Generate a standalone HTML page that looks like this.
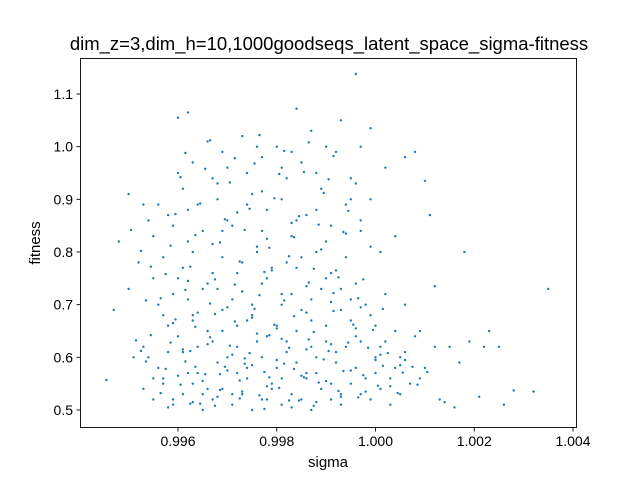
<!DOCTYPE html>
<html><head><meta charset="utf-8"><style>
body{margin:0;background:#fff;}
svg{display:block;font-family:"Liberation Sans","DejaVu Sans",sans-serif;}
</style></head><body>
<svg id="chart" width="640" height="480">
<rect x="0" y="0" width="640" height="480" fill="#fff"/>
<text x="329" y="50" text-anchor="middle" font-size="18.5" fill="#000">dim_z=3,dim_h=10,1000goodseqs_latent_space_sigma-fitness</text>
<g id="points"></g>
<g id="xaxis"></g>
<g id="yaxis"></g>
<rect x="80.5" y="58.5" width="496" height="369" fill="none" stroke="#000" stroke-width="0.9"/>
<text x="328" y="467" text-anchor="middle" font-size="15">sigma</text>
<text x="0" y="0" transform="translate(40,243) rotate(-90)" text-anchor="middle" font-size="15">fitness</text>
</svg>
<script>
const sigmaVals=[
0.99455,0.9948,0.9947,0.9950,0.9996,1.0035,1.0032,1.0028,1.0025,1.0023,
1.0018,1.0021,1.0010,1.0011,1.0008,1.0012,0.9999,0.9993,0.9984,0.9962,
0.9960,1.0016,1.0013,1.0014,1.0019,1.0026,1.0022,1.0017,1.0015,1.0009,
0.9953,0.9955,0.9957,0.9959,0.9961,0.9963,0.9965,0.9967,0.9969,0.9971,
0.9973,0.9975,0.9977,0.9979,0.9981,0.9983,0.9985,0.9987,0.9989,0.9991,
0.9993,0.9995,0.9997,0.9999,1.0001,1.0003,1.0005,0.9956,0.9962,0.9968,
0.9974,0.9980,0.9986,0.9992,0.9998,1.0004,0.9958,0.9964,0.9970,0.9976,
0.9982,0.9988,0.9994,1.0000,1.0006,0.9954,0.9960,0.9966,0.9972,0.9978,
0.9984,0.9990,0.9996,1.0002,0.9957,0.9963,0.9969,0.9975,0.9981,0.9987,
0.9993,0.9999,0.9959,0.9965,0.9971,0.9977,0.9983,0.9989,0.9995,0.9961,
0.9967,0.9973,0.9979,0.9985,0.9991,0.9955,0.9962,0.9969,0.9976,0.9983,
0.9990,0.9997,0.9958,0.9964,0.9970,0.9978,0.9986,0.9994,0.9961,0.9968,
0.9975,0.9982,0.9989,0.9996,0.9963,0.9970,0.9977,0.9985,0.9992,0.9966,
0.9973,0.9980,0.9987,0.9957,0.9965,0.9972,0.9979,0.9986,0.9993,0.9959,
0.9964,0.9966,0.9971,0.9974,0.9978,0.9981,0.9984,0.9988,0.9991,0.9996,
1.0000,1.0003,1.0007,1.0010,0.9955,0.9961,0.9967,0.9972,0.9977,0.9982,
0.9987,0.9992,0.9997,1.0001,1.0005,1.0008,0.9958,0.9963,0.9969,0.9974,
0.9980,0.9985,0.9990,0.9995,1.0000,1.0004,0.9956,0.9962,0.9968,0.9975,
0.9981,0.9987,0.9993,0.9998,1.0002,0.9960,0.9966,0.9972,0.9978,0.9984,
0.9990,0.9996,0.9957,0.9963,0.9969,0.9976,0.9982,0.9988,0.9994,0.9999,
0.9959,0.9965,0.9971,0.9977,0.9984,0.9991,0.9997,0.9956,0.9962,0.9968,
0.9974,0.9981,0.9988,0.9995,0.9960,0.9967,0.9974,0.9981,0.9988,0.9995,
0.9969,0.9976,0.9983,0.9990,0.9997,1.0002,1.0006,0.9951,0.9953,0.9954,
0.9952,0.9950,0.9955,0.9953,0.9999,1.0001,1.0004,1.0006,1.0009,1.0012,
0.9958,0.9963,0.9968,0.9973,0.9978,0.9983,0.9988,0.9993,0.9998,1.0003,
0.9960,0.9965,0.9970,0.9975,0.9980,0.9985,0.9990,0.9995,1.0000,1.0005,
0.9961,0.9966,0.9971,0.9976,0.9981,0.9986,0.9991,0.9996,1.0001,1.0006,
0.9959,0.9964,0.9970,0.9975,0.9980,0.9986,0.9991,0.9997,0.9962,0.9973,
0.9979,0.9986,0.9992,0.9967,0.9978,0.9989,0.9972,0.9983,0.9994,0.9977,
0.99565,0.99605,0.99645,0.99685,0.99725,0.99765,0.99805,0.99845,0.99885,0.99925,
0.99965,1.00005,1.00045,1.00085,0.99575,0.99615,0.99655,0.99695,0.99735,0.99775,
0.99815,0.99855,0.99895,0.99935,0.99975,1.00015,1.00055,0.99585,0.99625,0.99665,
0.99705,0.99745,0.99785,0.99825,0.99865,0.99905,0.99945,0.99985,1.00025,0.99595,
0.99635,0.99675,0.99715,0.99755,0.99795,0.99835,0.99875,0.99915,0.99955,0.99995,
0.99565,0.99615,0.99665,0.99715,0.99765,0.99815,0.99865,0.99915,0.99965,1.00015,
0.99575,0.99625,0.99675,0.99725,0.99775,0.99825,0.99875,0.99925,0.99975,0.99585,
0.99635,0.99685,0.99735,0.99785,0.99835,0.99885,0.99935,0.99595,0.99645,0.99695,
0.99745,0.99795,0.99845,0.99895,0.99945,0.99605,0.99655,0.99705,0.99755,0.99805,
0.99855,0.99905,0.99615,0.99665,0.99715,0.99765,0.99815,0.99865,0.99915,0.99625,
0.99675,0.99725,0.99775,0.99825,0.99875,0.99635,0.99685,0.99735,0.99785,0.99835,
0.99535,0.99545,0.99525,0.99515,0.99535,0.99545,0.99505,0.99525,1.00075,1.00105
];
const fitnessVals=[
0.557,0.82,0.69,0.91,1.138,0.73,0.535,0.537,0.62,0.65,
0.80,0.525,0.935,0.87,0.99,0.735,1.035,1.05,1.072,1.065,
1.055,0.505,0.52,0.515,0.63,0.51,0.62,0.59,0.62,0.56,
0.54,0.52,0.56,0.51,0.53,0.55,0.50,0.52,0.54,0.51,
0.53,0.50,0.52,0.55,0.51,0.53,0.52,0.50,0.54,0.52,
0.51,0.55,0.53,0.52,0.54,0.51,0.53,0.58,0.57,0.59,
0.56,0.58,0.57,0.59,0.56,0.58,0.61,0.62,0.60,0.63,
0.61,0.60,0.62,0.60,0.61,0.60,0.64,0.65,0.66,0.64,
0.65,0.63,0.64,0.63,0.68,0.67,0.69,0.68,0.70,0.67,
0.69,0.68,0.72,0.73,0.71,0.74,0.72,0.73,0.71,0.77,
0.76,0.78,0.77,0.79,0.76,0.83,0.82,0.84,0.81,0.83,
0.82,0.84,0.87,0.89,0.86,0.88,0.87,0.89,0.92,0.93,
0.91,0.94,0.92,0.93,0.97,0.96,0.98,0.97,0.99,1.01,
1.02,1.00,1.03,0.55,0.53,0.57,0.54,0.56,0.53,0.52,
0.57,0.54,0.53,0.58,0.52,0.56,0.59,0.57,0.55,0.58,
0.57,0.56,0.55,0.58,0.56,0.61,0.63,0.62,0.60,0.63,
0.62,0.61,0.63,0.62,0.60,0.64,0.66,0.68,0.65,0.67,
0.66,0.69,0.66,0.67,0.66,0.65,0.70,0.71,0.73,0.70,
0.72,0.71,0.73,0.70,0.72,0.75,0.74,0.76,0.75,0.77,
0.75,0.74,0.79,0.80,0.79,0.80,0.78,0.80,0.79,0.81,
0.85,0.84,0.85,0.84,0.86,0.85,0.86,0.89,0.88,0.90,
0.89,0.90,0.88,0.90,0.95,0.94,0.95,0.96,0.95,0.94,
0.99,1.00,0.99,1.00,1.00,0.96,0.98,0.60,0.62,0.86,
0.78,0.73,0.75,0.89,0.90,0.80,0.83,0.70,0.65,0.62,
0.505,0.515,0.525,0.535,0.545,0.505,0.515,0.525,0.535,0.545,
0.565,0.555,0.575,0.585,0.595,0.565,0.555,0.575,0.595,0.585,
0.615,0.625,0.605,0.645,0.635,0.615,0.625,0.655,0.605,0.595,
0.665,0.685,0.695,0.675,0.655,0.685,0.705,0.695,0.745,0.725,
0.765,0.735,0.765,0.815,0.825,0.805,0.875,0.855,0.835,0.915,
0.532,0.548,0.512,0.538,0.556,0.528,0.542,0.518,0.552,0.536,
0.524,0.546,0.532,0.548,0.578,0.592,0.568,0.582,0.598,0.572,
0.588,0.562,0.596,0.574,0.566,0.584,0.571,0.628,0.612,0.638,
0.622,0.608,0.642,0.618,0.634,0.612,0.628,0.618,0.608,0.672,
0.658,0.682,0.668,0.692,0.662,0.678,0.648,0.688,0.662,0.652,
0.712,0.728,0.702,0.738,0.718,0.708,0.742,0.722,0.712,0.692,
0.758,0.772,0.748,0.782,0.762,0.792,0.768,0.752,0.748,0.812,
0.832,0.818,0.842,0.808,0.828,0.852,0.838,0.872,0.892,0.862,
0.882,0.902,0.868,0.912,0.878,0.942,0.958,0.932,0.968,0.948,
0.952,0.938,0.988,1.012,0.978,1.022,0.992,1.008,0.982,0.512,
0.508,0.522,0.502,0.518,0.508,0.582,0.568,0.588,0.562,0.578,
0.592,0.642,0.612,0.632,0.708,0.772,0.842,0.802,0.582,0.572
];
const xTicks=[0.996,0.998,1.000,1.002,1.004];
const xTickLabels=["0.996","0.998","1.000","1.002","1.004"];
const yTicks=[0.5,0.6,0.7,0.8,0.9,1.0,1.1];
const yTickLabels=["0.5","0.6","0.7","0.8","0.9","1.0","1.1"];

const NS="http://www.w3.org/2000/svg";
function xScale(v){return 178+(v-0.996)*(98.75/0.002);}
function yScale(v){return 410-(v-0.5)*(52.67/0.1);}

const pg=document.getElementById('points');
const n=Math.min(sigmaVals.length,fitnessVals.length);
for(let i=0;i<n;i++){
  const c=document.createElementNS(NS,'circle');
  c.setAttribute('cx',xScale(sigmaVals[i]).toFixed(1));
  c.setAttribute('cy',yScale(fitnessVals[i]).toFixed(1));
  c.setAttribute('r','1.2');
  c.setAttribute('fill','#1f77b4');
  
  
  pg.appendChild(c);
}
const xg=document.getElementById('xaxis');
xTicks.forEach((t,i)=>{
  const x=xScale(t);
  const l=document.createElementNS(NS,'line');
  l.setAttribute('x1',x);l.setAttribute('x2',x);l.setAttribute('y1',427.5);l.setAttribute('y2',431.5);
  l.setAttribute('stroke','#000');l.setAttribute('stroke-width','0.9');
  
  
  xg.appendChild(l);
  const tx=document.createElementNS(NS,'text');
  tx.setAttribute('x',x);tx.setAttribute('y',446);tx.setAttribute('text-anchor','middle');tx.setAttribute('font-size','14');
  tx.textContent=xTickLabels[i];
  
  
  xg.appendChild(tx);
});
const yg=document.getElementById('yaxis');
yTicks.forEach((t,i)=>{
  const y=yScale(t);
  const l=document.createElementNS(NS,'line');
  l.setAttribute('x1',76.5);l.setAttribute('x2',80.5);l.setAttribute('y1',y);l.setAttribute('y2',y);
  l.setAttribute('stroke','#000');l.setAttribute('stroke-width','0.9');
  
  
  yg.appendChild(l);
  const tx=document.createElementNS(NS,'text');
  tx.setAttribute('x',73);tx.setAttribute('y',y+5);tx.setAttribute('text-anchor','end');tx.setAttribute('font-size','14');
  tx.textContent=yTickLabels[i];
  
  
  yg.appendChild(tx);
});
</script>
</body></html>
